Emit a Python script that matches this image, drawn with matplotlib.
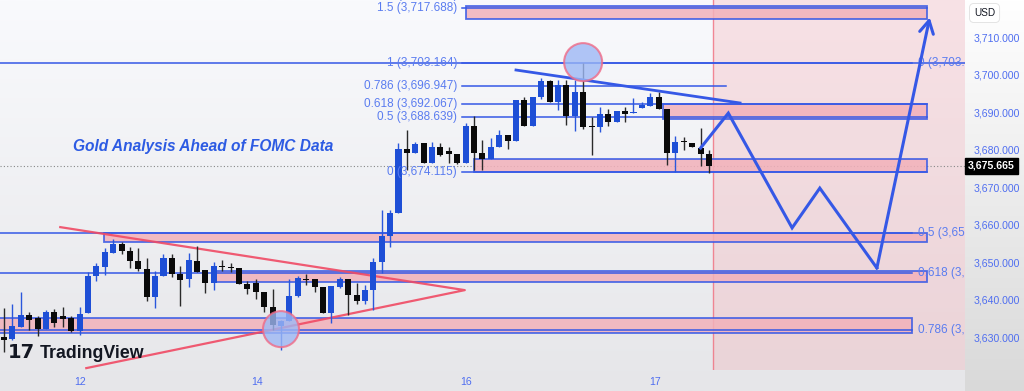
import matplotlib.pyplot as plt
import matplotlib.transforms as mtransforms
import numpy as np
from matplotlib.patches import Rectangle, Ellipse
from matplotlib.colors import LinearSegmentedColormap

plt.rcParams['font.family'] = ['Liberation Sans', 'DejaVu Sans']

# XAUUSD 1h candles
opens = [3630.0, 3629.5, 3632.7, 3635.9, 3635.1, 3632.1, 3636.7, 3635.6, 3635.1, 3631.6,
         3636.4, 3646.3, 3648.7, 3652.4, 3654.8, 3652.9, 3650.3, 3648.1, 3640.7, 3646.3,
         3651.1, 3646.8, 3645.5, 3650.3, 3647.9, 3644.4, 3648.9, 3648.7, 3648.4, 3644.1,
         3644.4, 3642.0, 3638.0, 3632.9, 3634.3, 3640.9, 3645.5, 3645.5, 3643.3, 3636.4,
         3643.3, 3645.5, 3641.2, 3639.6, 3642.5, 3650.0, 3656.9, 3663.1, 3680.1, 3679.1,
         3681.7, 3676.4, 3680.7, 3679.6, 3678.8, 3676.4, 3686.3, 3679.1, 3677.5, 3680.7,
         3683.9, 3682.3, 3693.2, 3686.3, 3694.0, 3698.3, 3692.7, 3697.2, 3688.9, 3695.3,
         3686.1, 3686.0, 3689.5, 3687.3, 3690.3, 3689.7, 3691.1, 3691.6, 3694.0, 3690.8,
         3679.1, 3682.1, 3681.7, 3680.4, 3678.8]
highs = [3637.7, 3638.8, 3642.0, 3636.7, 3635.6, 3637.2, 3637.5, 3638.0, 3635.6, 3638.0,
         3647.3, 3649.7, 3653.7, 3656.1, 3655.3, 3654.0, 3653.7, 3651.1, 3647.6, 3652.1,
         3652.1, 3648.9, 3652.4, 3654.3, 3647.9, 3650.0, 3650.5, 3649.7, 3648.4, 3644.9,
         3645.5, 3642.0, 3642.8, 3634.5, 3645.5, 3646.3, 3646.8, 3645.5, 3643.3, 3643.6,
         3646.0, 3645.5, 3644.4, 3643.9, 3651.1, 3663.9, 3663.9, 3681.7, 3685.2, 3682.0,
         3681.7, 3682.0, 3681.7, 3680.7, 3678.8, 3687.1, 3688.9, 3682.5, 3683.1, 3685.2,
         3683.9, 3693.2, 3694.0, 3694.0, 3699.1, 3698.5, 3698.5, 3698.5, 3698.5, 3703.2,
         3688.7, 3691.3, 3690.8, 3690.3, 3691.3, 3693.7, 3692.7, 3695.1, 3695.3, 3690.8,
         3683.6, 3683.3, 3681.7, 3685.7, 3679.9]
lows = [3626.0, 3629.2, 3632.7, 3631.9, 3630.3, 3632.1, 3632.7, 3632.7, 3631.3, 3630.5,
        3636.4, 3644.9, 3646.5, 3652.4, 3652.1, 3648.4, 3647.6, 3639.6, 3637.7, 3646.3,
        3646.0, 3638.3, 3643.3, 3647.3, 3641.7, 3642.5, 3647.6, 3647.3, 3644.1, 3641.5,
        3640.1, 3636.7, 3631.9, 3626.5, 3634.3, 3640.7, 3643.9, 3642.0, 3636.4, 3633.7,
        3643.1, 3635.9, 3638.8, 3638.8, 3637.2, 3647.1, 3654.0, 3663.1, 3674.5, 3679.1,
        3676.4, 3676.4, 3678.3, 3676.4, 3676.1, 3676.4, 3674.5, 3674.5, 3677.5, 3680.7,
        3680.1, 3682.3, 3686.3, 3686.3, 3693.5, 3692.7, 3690.5, 3686.5, 3684.9, 3685.5,
        3678.5, 3684.7, 3686.3, 3687.3, 3687.3, 3689.7, 3691.1, 3691.6, 3690.8, 3675.9,
        3674.0, 3679.9, 3680.7, 3675.6, 3673.7]
closes = [3629.2, 3632.9, 3635.9, 3634.5, 3632.1, 3636.7, 3633.7, 3634.8, 3631.6, 3636.1,
          3646.3, 3648.9, 3652.7, 3654.8, 3652.9, 3650.3, 3648.1, 3640.7, 3646.3, 3651.1,
          3646.8, 3645.2, 3650.5, 3647.3, 3644.4, 3648.9, 3648.7, 3648.4, 3644.1, 3642.8,
          3642.0, 3638.0, 3633.2, 3634.3, 3640.9, 3645.7, 3645.2, 3643.3, 3636.4, 3643.6,
          3645.5, 3641.2, 3639.6, 3642.5, 3650.0, 3656.9, 3663.1, 3680.1, 3679.1, 3681.5,
          3676.4, 3680.7, 3678.5, 3678.8, 3676.4, 3686.3, 3679.1, 3677.5, 3680.7, 3683.9,
          3682.3, 3693.2, 3686.3, 3694.0, 3698.3, 3692.7, 3697.2, 3688.9, 3695.3, 3686.0,
          3685.9, 3689.5, 3687.3, 3690.3, 3689.5, 3689.8, 3691.9, 3694.0, 3690.8, 3679.1,
          3682.0, 3681.9, 3680.7, 3678.8, 3675.7]

last_price = 3675.665
day_pos = [9.1, 30.1, 55.05, 77.6]
day_labels = ['12', '14', '16', '17']
price_ticks = [3630, 3640, 3650, 3660, 3670, 3680, 3690, 3700, 3710]

# fib retracement on the move 3674.115 -> 3703.164
fib_levels = ['0', '0.5', '0.618', '0.786', '1', '1.5', '1.618']
fib_prices = [3674.115, 3688.639, 3692.067, 3696.947, 3703.164, 3717.688, 3721.117]
fib_line_end = [110.0, 110.0, 110.0, 86.0, 114.6, 110.0, 110.0]
# second fib on the right, labels are cut by the price scale in the chart
fib2_prices = [3703.164, 3657.782, 3647.068, 3631.818]
fib2_labels = ['0 (3,703.', '0.5 (3,65', '0.618 (3,', '0.786 (3,']

# supply / demand boxes
zone_start = [55.0, 78.5, 56.0, 11.9, 25.1, -0.6]
zone_end = [110.0, 110.0, 110.0, 110.0, 110.0, 108.2]
zone_low = [3714.8, 3688.1, 3674.1, 3655.3, 3644.7, 3631.1]
zone_high = [3718.3, 3692.1, 3677.5, 3657.7, 3647.6, 3635.1]

# triangle, trend line, circles, projected path
tri_x = [6.7, 54.9, 9.8]
tri_y = [3659.3, 3642.5, 3621.7]
trend_x = [61.0, 87.7]
trend_y = [3701.2, 3692.4]
circ_x = [33.0, 69.0]
circ_y = [3632.1, 3703.3]
circ_r = [18, 19]  # px
path_x = [83.0, 86.3, 93.9, 97.2, 104.0, 110.3]
path_y = [3680.4, 3689.7, 3659.1, 3669.7, 3648.4, 3715.2]
future_start = 84.5

BLUE = '#3558e6'
LBL = '#5a7cf0'
PINK = '#f2b1ba'

fig = plt.figure(figsize=(10.24, 3.91), dpi=100)

# background gradients
bg = fig.add_axes([0, 0, 1, 1], zorder=-2)
grad = np.linspace(0, 1, 256).reshape(-1, 1)
bg.imshow(grad, aspect='auto', extent=[0, 1, 0, 1], origin='upper',
          cmap=LinearSegmentedColormap.from_list('b', ['#f9fafd', '#e6e6e9']))
bg.imshow(grad, aspect='auto', extent=[965 / 1024, 1, 0, 1], origin='upper',
          cmap=LinearSegmentedColormap.from_list('r', ['#ffffff', '#d9d9d9']))
bg.set_xlim(0, 1)
bg.set_ylim(0, 1)
bg.axis('off')

ax = fig.add_axes([0, 21 / 391, 965 / 1024, 370 / 391])
ax.set_facecolor('none')
ax.set_xlim(-0.48, 114.5)
ax.set_ylim(3621.2, 3719.87)
for s in ax.spines.values():
    s.set_visible(False)

# future area
ax.axvspan(future_start, 115, color='#f5a3aa', alpha=0.28, lw=0, zorder=0)
ax.axvline(future_start, color='#f07080', lw=1, alpha=0.8, zorder=1)

# zones
for x0, x1, lo, hi in zip(zone_start, zone_end, zone_low, zone_high):
    ax.add_patch(Rectangle((x0, lo), x1 - x0, hi - lo, fc=PINK, ec=BLUE, lw=1.3,
                           alpha=0.85, zorder=2))

# fib lines + labels
for lev, p, x1 in zip(fib_levels, fib_prices, fib_line_end):
    ax.plot([54.6, x1], [p, p], color=BLUE, lw=1.1, zorder=2)
    ax.text(54.0, p, '%s (%s)' % (lev, format(p, ',.3f')), ha='right', va='center',
            fontsize=8.5, color=LBL, zorder=6)
for lab, p in zip(fib2_labels, fib2_prices):
    ax.plot([-0.6, 108.2], [p, p], color=BLUE, lw=1.1, zorder=2)
    ax.text(108.9, p, lab, ha='left', va='center', fontsize=8.5, color=LBL, zorder=6)

ax.axhline(last_price, color='#888888', lw=0.8, ls=(0, (1, 2)), zorder=1)

# candles
x = np.arange(len(opens))
o = np.array(opens)
c = np.array(closes)
up = c >= o
ax.vlines(x, lows, highs, colors=np.where(up, '#2a57dc', '#2a2a2a'), lw=1, zorder=4)
body = np.maximum(np.abs(c - o), 0.3)
ax.bar(x, body, bottom=np.minimum(o, c), width=0.72,
       color=np.where(up, '#1e4fd6', '#0a0a0a'), zorder=5)

# triangle
ax.plot(tri_x, tri_y, color='#f04a64', lw=1.6, alpha=0.9, zorder=3)

# trendline on the highs
ax.plot(trend_x, trend_y, color=BLUE, lw=2, zorder=6)

# circles
xs, ys = 965 / 114.98, 370 / 98.67
for cx, cy, r in zip(circ_x, circ_y, circ_r):
    ax.add_patch(Ellipse((cx, cy), 2 * r / xs, 2 * r / ys, fc='#9db8f5', ec='#f06a86',
                         lw=1.5, alpha=0.8, zorder=6))

# projected path
ax.plot(path_x[:-1], path_y[:-1], color=BLUE, lw=2.2, zorder=7, solid_joinstyle='miter')
ax.annotate('', xy=(path_x[-1], path_y[-1]), xytext=(path_x[-2], path_y[-2]),
            arrowprops=dict(arrowstyle='->,head_length=0.9,head_width=0.5', color=BLUE,
                            lw=2.2, shrinkA=0, shrinkB=0), zorder=7)

ax.text(8.2, 3680.7, 'Gold Analysis Ahead of FOMC Data', fontsize=11.2, color='#2d5be3',
        fontweight='bold', fontstyle='italic', ha='left', va='center', zorder=8)

# price scale
ax.yaxis.tick_right()
ax.set_yticks(price_ticks)
ax.set_yticklabels([format(t, ',.3f') for t in price_ticks])
ax.tick_params(axis='y', length=0, pad=6, labelsize=7.6, labelcolor='#4f6ef0')
ax.set_xticks(day_pos)
ax.set_xticklabels(day_labels)
ax.tick_params(axis='x', length=0, pad=5, labelsize=7.6, labelcolor='#4f6ef0')

tr = mtransforms.blended_transform_factory(ax.transAxes, ax.transData)
ax.text(1.003, last_price, format(last_price, ',.3f'), transform=tr, ha='left',
        va='center', fontsize=7.6, color='white', fontweight='bold', clip_on=False,
        bbox=dict(boxstyle='square,pad=0.3', fc='black', ec='black'))
fig.text(974 / 1024, 1 - 13 / 391, 'USD', fontsize=7.2, color='#131722', va='center',
         bbox=dict(boxstyle='round,pad=0.45', fc='white', ec='#e0e0e0', lw=0.6))

# logo
fig.text(8 / 1024, 1 - 353 / 391, '17', fontsize=14, fontweight='heavy',
         color='#131722', va='center', family='DejaVu Sans')
fig.text(40 / 1024, 1 - 353 / 391, 'TradingView', fontsize=12.8, fontweight='bold',
         color='#131722', va='center')

fig.savefig('out.png', dpi=100)
